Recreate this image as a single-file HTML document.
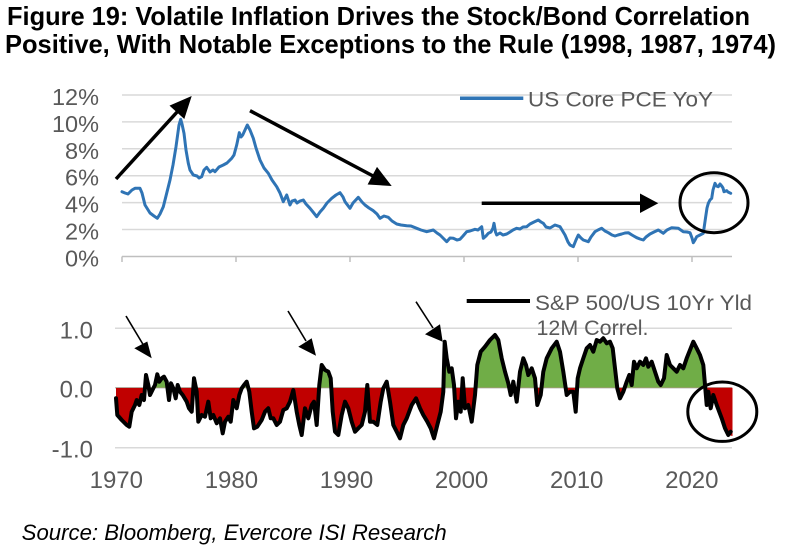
<!DOCTYPE html>
<html>
<head>
<meta charset="utf-8">
<style>
  html,body{margin:0;padding:0;background:#fff;}
  svg{display:block;}
  text{font-family:"Liberation Sans", Arial, sans-serif;}
</style>
</head>
<body>
<svg width="800" height="545" viewBox="0 0 800 545" xmlns="http://www.w3.org/2000/svg" xmlns:xlink="http://www.w3.org/1999/xlink">
  <defs>
    <clipPath id="above"><rect x="0" y="0" width="800" height="387.7"/></clipPath>
    <clipPath id="below"><rect x="0" y="387.7" width="800" height="160"/></clipPath>
    <path id="area"
    d="M116,387.7 L116,398.3 117.3,415 121.7,420 126.7,425 129.3,426.7 131.7,411.7 135,405 136.7,400 139.3,405 141.7,395 144,400 146,375 148.3,385 150,395 153.3,388.3 155,385 157.3,374.3 159.3,381.7 161.7,378.3 164,376.7 166.7,381.7 169,400 171,383.3 173.3,388.3 175.7,398.3 177.7,385 180,391.7 182.7,395 186.7,401.7 189,408.3 191.7,411.7 194,378.3 196.7,391.7 198.3,421.7 201.7,415 205,416.7 208.3,401.7 210.7,418.3 213.3,415 216.7,423.3 220,418.3 222.7,433.3 225,421.7 228.3,416.7 230.7,421.7 233.3,400 236.7,408.3 239.3,395 241.7,388.3 244,385 246.7,381.7 249.3,391.7 251.7,411.7 254,428.3 257.3,426.7 261.7,420 265,411.7 268.3,408.3 270.7,418.3 273.3,418.3 276.7,425 280,421.7 283.3,410 286.7,408.3 290,401.7 293.3,390 296.7,411.7 299.3,425 301.7,435 305,408.3 308.3,418.3 311.7,405 314,401.7 316.7,425 319.3,385 321.7,365 325,370 328.3,371.7 330.7,378.3 332.7,411.7 335,431.7 338.3,435 341.7,415 345,401.7 348.3,408.3 351.7,421.7 355,431.7 358.3,428.3 361.7,425 365,411.7 367.3,385 370,421.7 373.3,421.7 377.3,425 380.7,401.7 383.3,388.3 386.7,381.7 390,401.7 393.3,425 396.7,431.7 400,438.3 403.3,425 406.7,418.3 411.7,405 416,398.3 420,408.3 423.3,415 427.3,421.7 430.7,428.3 434,438.3 437.3,425 440.7,411.7 443.3,391.7 444.7,341.7 446.7,358.3 449.3,371.7 451.7,368.3 454,385 456,418.3 458.3,401.7 460.7,411.7 462.7,378.3 465,408.3 468.3,405 471.7,421.7 475,395 477.3,365 480.7,351.7 485,346.7 490,340 495,335 498.3,340 501.7,358.3 505,371.7 508.3,383.3 510.7,395 513.3,381.7 516.7,401.7 520,371.7 523.3,358.3 526,365 528.3,375 531.7,368.3 535,378.3 537.3,405 540.7,395 543.3,371.7 546.7,358.3 551.7,348.3 556.7,341.7 560,351.7 563.3,371.7 566.7,395 570,391.7 573.3,391.7 575.7,411.7 577.7,378.3 580,368.3 583.3,358.3 586.7,348.3 590,345 593.3,351.7 596.7,340 600,341.7 603.3,338.3 606.7,343.3 610,341.7 612.7,348.3 615,368.3 617.3,388.3 620,398.3 623.3,391.7 626.7,381.7 629.3,375 631.7,385 634,361.7 636.7,368.3 640,361.7 643.3,365 646,358.3 648.3,366.7 651.7,361.7 655,371.7 658.3,381.7 660.7,385 664,378.3 666.7,355 670,365 673.3,368.3 676.7,371.7 680,365 683.3,368.3 686.7,358.3 690.7,348.3 693.3,341.7 696.7,348.3 700,355 703.3,365 705,385 706.7,405 708.3,391.7 710.7,408.3 713.3,395 716.7,405 721.7,418.3 725,428.3 728.3,435 730.7,431.7 L730.7,387.7 Z"/>
  </defs>

  <!-- Title -->
  <text x="7" y="25" font-size="26" font-weight="bold" fill="#000" textLength="743" lengthAdjust="spacingAndGlyphs">Figure 19:  Volatile Inflation Drives the Stock/Bond Correlation</text>
  <text x="5" y="53" font-size="26" font-weight="bold" fill="#000" textLength="771" lengthAdjust="spacingAndGlyphs">Positive, With Notable Exceptions to the Rule (1998, 1987, 1974)</text>

  <!-- ===== TOP CHART ===== -->
  <g stroke="#d9d9d9" stroke-width="1.5">
    <line x1="122" y1="95" x2="732" y2="95"/>
    <line x1="122" y1="121.9" x2="732" y2="121.9"/>
    <line x1="122" y1="148.8" x2="732" y2="148.8"/>
    <line x1="122" y1="175.7" x2="732" y2="175.7"/>
    <line x1="122" y1="202.6" x2="732" y2="202.6"/>
    <line x1="122" y1="229.5" x2="732" y2="229.5"/>
  </g>
  <g stroke="#bfbfbf" stroke-width="1.5">
    <line x1="122" y1="256.5" x2="732" y2="256.5"/>
    <line x1="122" y1="256.5" x2="122" y2="262"/>
    <line x1="236" y1="256.5" x2="236" y2="262"/>
    <line x1="350" y1="256.5" x2="350" y2="262"/>
    <line x1="464" y1="256.5" x2="464" y2="262"/>
    <line x1="578" y1="256.5" x2="578" y2="262"/>
    <line x1="692" y1="256.5" x2="692" y2="262"/>
  </g>
  <g font-size="23.5" fill="#595959" text-anchor="end">
    <text x="99" y="105">12%</text>
    <text x="99" y="131.9">10%</text>
    <text x="99" y="158.8">8%</text>
    <text x="99" y="185.7">6%</text>
    <text x="99" y="212.6">4%</text>
    <text x="99" y="239.5">2%</text>
    <text x="99" y="266.5">0%</text>
  </g>

  <!-- PCE line -->
  <polyline fill="none" stroke="#2f74b5" stroke-width="3" stroke-linejoin="round" stroke-linecap="round"
    points="122,191.7 125,193 128,194 132,190 135,188.3 140,188.3 142,193 145,205 150,213 154,216 157.3,218.3 160,214 163.3,206.7 166,196 170,180 173,165 176,146.7 179,125 180.7,119.3 182,124 184,133.3 186,150 188.3,163.3 190,170 193.3,175 197,176 199,178 201.7,176.7 204,170 206.7,167.3 210,172 213,170 215,171.7 219,167 223.3,165 227,163 231.7,158.3 234,155 236.7,145 239.3,132.7 241,137 242.7,135 245,130 247.3,125 250,130 253.3,138.3 256,148 260,160 264,168 268.3,173.3 272,180 276.7,186.7 280,193 283.3,201.7 286.7,195 290,205 292,201 295,200 297,203 300,201 303.3,200 306,204 310,208.3 313,212 316.7,216.7 320,212 323.3,208.3 327,203 331.7,198.3 336,195 340,192.7 343,197 345,201.7 350,208.3 353,203 358.3,197.3 362,202 365,205 369,208 373.3,210.7 377,214 380,218.3 384,216 388.3,217.3 392,221 396.7,224 401,225 406.7,225.7 411,226 416.7,228.3 421,230 426.7,231.7 433.3,230 437,233 440,235 444,239 446.7,241.7 450,238 453.3,238.3 457,240 460,239.3 463,236 466.7,231.7 470,231 475,229.3 478,230 481.7,226.7 483.3,238.3 486,236 488.3,233.3 491,232 493,228 494,223.3 495.5,232 496.7,235 500,233 503,235 506.7,234 510,232 513,230 516.7,228.3 520,229 523,227 526.7,226.7 530,224 534,222 538.3,220 541,222 543.3,223.3 546,227 550,228 555,225 560,226.7 562,230 565,235 568,242 570,245 573.3,246.7 576,240 578.3,235 581,238 583.3,240 588.3,241.7 591,237 595,231.7 598,230 601.7,228.3 605,231 608.3,232.7 612,235 615,236 618,235 621.7,234 625,233 628.3,232.7 632,235 636.7,237.7 640,239 643.3,240 646,237 650,234 654,232 658.3,230 663.3,233.3 667,230 671.7,227.7 675,228 678.3,228.3 683.3,231.7 687,232 690,232.7 692,238 693.3,242.7 695,240 696.7,236.7 700,235 703.3,233.3 705.7,216.7 707,208 708.3,203.3 710,200 711.7,198.3 713,190 715,183.3 716.5,186 718.3,186.7 720,184 721.7,186 723,188 724,191.7 726.7,190.7 728,192 730.7,193.3"/>

  <!-- Top legend -->
  <line x1="460" y1="98.3" x2="523.3" y2="98.3" stroke="#2f74b5" stroke-width="3.5"/>
  <text x="528" y="106.5" font-size="21.5" fill="#595959" textLength="185" lengthAdjust="spacingAndGlyphs">US Core PCE YoY</text>

  <!-- Top arrows -->
  <g stroke="#000" stroke-width="3.5" fill="#000">
    <line x1="116" y1="179" x2="178" y2="111"/>
    <polygon points="191.7,96 184.3,119 169.5,105.6" stroke="none"/>
    <line x1="250" y1="110.7" x2="374" y2="176.5"/>
    <polygon points="391.7,186 367.6,184.5 377,166.9" stroke="none"/>
    <line x1="481.7" y1="203.3" x2="642" y2="203.3"/>
    <polygon points="658.3,203.3 640,193.5 640,213" stroke="none"/>
  </g>
  <ellipse cx="714" cy="202.7" rx="34" ry="30" fill="none" stroke="#000" stroke-width="3"/>

  <!-- ===== BOTTOM CHART ===== -->
  <g stroke="#d9d9d9" stroke-width="1.5">
    <line x1="115" y1="328.3" x2="732" y2="328.3"/>
    <line x1="115" y1="447.7" x2="732" y2="447.7"/>
  </g>
  <line x1="115" y1="387.7" x2="732" y2="387.7" stroke="#bfbfbf" stroke-width="1.5"/>

  <g font-size="24" fill="#595959" text-anchor="end">
    <text x="93" y="338.3">1.0</text>
    <text x="93" y="397.7">0.0</text>
    <text x="93" y="457.7">-1.0</text>
  </g>
  <g font-size="24" fill="#595959" text-anchor="middle">
    <text x="116.3" y="488">1970</text>
    <text x="231.4" y="488">1980</text>
    <text x="346.5" y="488">1990</text>
    <text x="461.6" y="488">2000</text>
    <text x="576.7" y="488">2010</text>
    <text x="691.8" y="488">2020</text>
  </g>

  <!-- fills -->
  <g clip-path="url(#below)" fill="#c00000"><use href="#area" xlink:href="#area"/></g>
  <g clip-path="url(#above)" fill="#70ad47"><use href="#area" xlink:href="#area"/></g>
  <polygon points="705,387.7 732.5,387.7 732.5,436 728.3,435 725,428.3 721.7,418.3 716.7,405 710,392" fill="#c00000"/>

  <!-- Correlation line -->
  <polyline fill="none" stroke="#000" stroke-width="4" stroke-linejoin="round" stroke-linecap="round"
    points="116,398.3 117.3,415 121.7,420 126.7,425 129.3,426.7 131.7,411.7 135,405 136.7,400 139.3,405 141.7,395 144,400 146,375 148.3,385 150,395 153.3,388.3 155,385 157.3,374.3 159.3,381.7 161.7,378.3 164,376.7 166.7,381.7 169,400 171,383.3 173.3,388.3 175.7,398.3 177.7,385 180,391.7 182.7,395 186.7,401.7 189,408.3 191.7,411.7 194,378.3 196.7,391.7 198.3,421.7 201.7,415 205,416.7 208.3,401.7 210.7,418.3 213.3,415 216.7,423.3 220,418.3 222.7,433.3 225,421.7 228.3,416.7 230.7,421.7 233.3,400 236.7,408.3 239.3,395 241.7,388.3 244,385 246.7,381.7 249.3,391.7 251.7,411.7 254,428.3 257.3,426.7 261.7,420 265,411.7 268.3,408.3 270.7,418.3 273.3,418.3 276.7,425 280,421.7 283.3,410 286.7,408.3 290,401.7 293.3,390 296.7,411.7 299.3,425 301.7,435 305,408.3 308.3,418.3 311.7,405 314,401.7 316.7,425 319.3,385 321.7,365 325,370 328.3,371.7 330.7,378.3 332.7,411.7 335,431.7 338.3,435 341.7,415 345,401.7 348.3,408.3 351.7,421.7 355,431.7 358.3,428.3 361.7,425 365,411.7 367.3,385 370,421.7 373.3,421.7 377.3,425 380.7,401.7 383.3,388.3 386.7,381.7 390,401.7 393.3,425 396.7,431.7 400,438.3 403.3,425 406.7,418.3 411.7,405 416,398.3 420,408.3 423.3,415 427.3,421.7 430.7,428.3 434,438.3 437.3,425 440.7,411.7 443.3,391.7 444.7,341.7 446.7,358.3 449.3,371.7 451.7,368.3 454,385 456,418.3 458.3,401.7 460.7,411.7 462.7,378.3 465,408.3 468.3,405 471.7,421.7 475,395 477.3,365 480.7,351.7 485,346.7 490,340 495,335 498.3,340 501.7,358.3 505,371.7 508.3,383.3 510.7,395 513.3,381.7 516.7,401.7 520,371.7 523.3,358.3 526,365 528.3,375 531.7,368.3 535,378.3 537.3,405 540.7,395 543.3,371.7 546.7,358.3 551.7,348.3 556.7,341.7 560,351.7 563.3,371.7 566.7,395 570,391.7 573.3,391.7 575.7,411.7 577.7,378.3 580,368.3 583.3,358.3 586.7,348.3 590,345 593.3,351.7 596.7,340 600,341.7 603.3,338.3 606.7,343.3 610,341.7 612.7,348.3 615,368.3 617.3,388.3 620,398.3 623.3,391.7 626.7,381.7 629.3,375 631.7,385 634,361.7 636.7,368.3 640,361.7 643.3,365 646,358.3 648.3,366.7 651.7,361.7 655,371.7 658.3,381.7 660.7,385 664,378.3 666.7,355 670,365 673.3,368.3 676.7,371.7 680,365 683.3,368.3 686.7,358.3 690.7,348.3 693.3,341.7 696.7,348.3 700,355 703.3,365 705,385 706.7,405 708.3,391.7 710.7,408.3 713.3,395 716.7,405 721.7,418.3 725,428.3 728.3,435 730.7,431.7"/>

  <!-- Bottom legend -->
  <line x1="466.7" y1="301" x2="530" y2="301" stroke="#000" stroke-width="4"/>
  <text x="535" y="310" font-size="21.5" fill="#595959" textLength="217" lengthAdjust="spacingAndGlyphs">S&amp;P 500/US 10Yr Yld</text>
  <text x="536.5" y="335" font-size="21.5" fill="#595959" textLength="112" lengthAdjust="spacingAndGlyphs">12M Correl.</text>

  <!-- Bottom small arrows -->
  <g stroke="#000" stroke-width="1.6" fill="#000">
    <line x1="126" y1="316" x2="144" y2="346"/>
    <polygon points="151.7,358.3 134.3,348.3 147.3,341.5" stroke="none"/>
    <line x1="288" y1="311" x2="306" y2="341"/>
    <polygon points="316,355.7 298.3,346.7 311.7,338.3" stroke="none"/>
    <line x1="416" y1="301.7" x2="433" y2="328"/>
    <polygon points="442.7,341.7 425,334.3 440,324.3" stroke="none"/>
  </g>
  <ellipse cx="722.3" cy="411.7" rx="34.5" ry="29.7" fill="none" stroke="#000" stroke-width="3"/>

  <!-- Source -->
  <text x="21.7" y="540" font-size="22" font-style="italic" fill="#000" textLength="425" lengthAdjust="spacingAndGlyphs">Source: Bloomberg, Evercore ISI Research</text>
</svg>
</body>
</html>
